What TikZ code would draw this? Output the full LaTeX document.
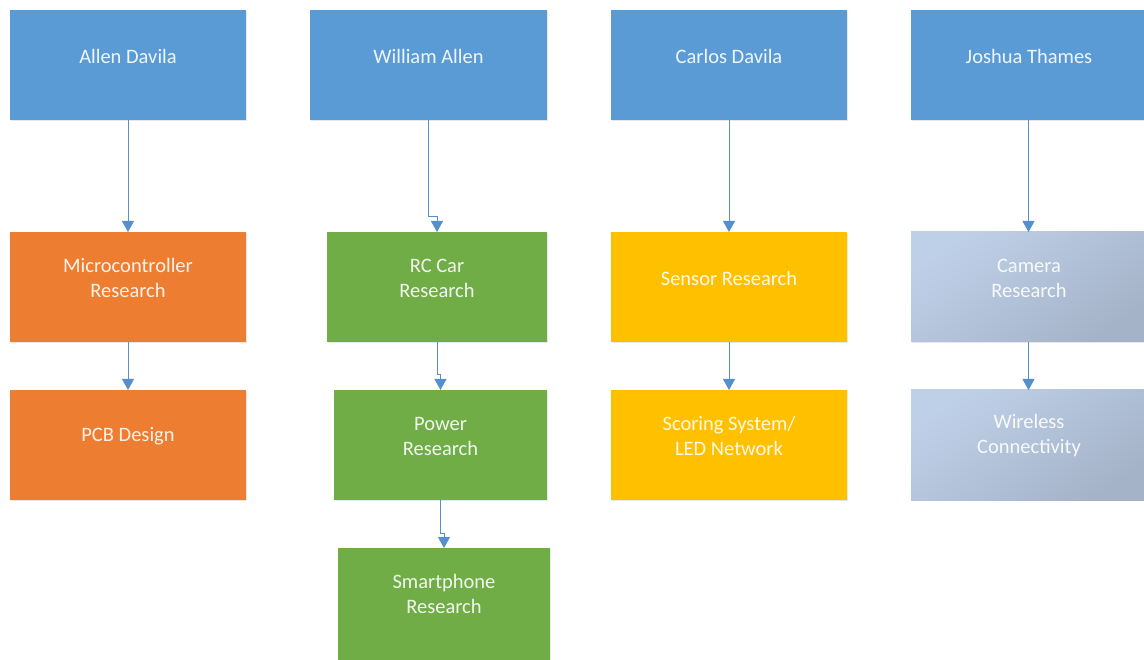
\documentclass[tikz,border=0pt]{standalone}
\usepackage{fontspec}
\setmainfont{Carlito}
\usetikzlibrary{arrows.meta,shadows}
\definecolor{hdblue}{HTML}{5B9BD5}
\definecolor{taskorange}{HTML}{ED7D31}
\definecolor{taskgreen}{HTML}{70AD47}
\definecolor{taskgold}{HTML}{FFC000}
\definecolor{slatelight}{HTML}{BED0E8}
\definecolor{slatedark}{HTML}{A5B3C8}
\definecolor{linkblue}{HTML}{5590CC}
\tikzset{
  card/.style={rectangle, draw=none, anchor=north west, minimum height=110pt,
    inner sep=0pt, outer sep=0pt,
    drop shadow={opacity=0.18, shadow xshift=1.2pt, shadow yshift=-1.2pt}},
  txt/.style={font=\fontsize{20.5}{25}\selectfont, text=white, text opacity=0.9,
    align=center, inner sep=0pt},
  tag/.style={label={[txt, yshift=9pt]center:#1}},
  head/.style={card, fill=hdblue, minimum width=236pt},
  orangecard/.style={card, fill=taskorange},
  greencard/.style={card, fill=taskgreen},
  goldcard/.style={card, fill=taskgold},
  slatecard/.style={card, top color=slatelight, bottom color=slatedark, shading angle=35},
  link/.style={draw=linkblue, line width=1pt,
    -{Triangle[width=12pt,length=11pt]}},
}
\begin{document}
\begin{tikzpicture}[x=1pt, y=-1pt]
  \useasboundingbox (0,0) rectangle (1144,660);
  \clip (0,0) rectangle (1144,660);

  % team member headers
  \node[head, tag={Allen Davila}] (ad) at (10,10) {};
  \node[head, minimum width=237pt, tag={William Allen}] (wa) at (310,10) {};
  \node[head, tag={Carlos Davila}] (cd) at (611,10) {};
  \node[head, tag={Joshua Thames}] (jt) at (911,10) {};

  % Allen Davila tasks
  \node[orangecard, minimum width=236pt, tag={Microcontroller\\Research}] (mc) at (10,232) {};
  \node[orangecard, minimum width=236pt, tag={PCB Design}] (pcb) at (10,390) {};

  % William Allen tasks
  \node[greencard, minimum width=220pt, tag={RC Car\\Research}] (rc) at (327,232) {};
  \node[greencard, minimum width=213pt, tag={Power\\Research}] (pw) at (334,390) {};
  \node[greencard, minimum width=212pt, minimum height=114pt,
        label={[txt, yshift=11pt]center:Smartphone\\Research}] (sp) at (338,548) {};

  % Carlos Davila tasks
  \node[goldcard, minimum width=236pt, tag={Sensor Research}] (sr) at (611,232) {};
  \node[goldcard, minimum width=236pt, tag={Scoring System/\\LED Network}] (ss) at (611,390) {};

  % Joshua Thames tasks
  \node[slatecard, minimum width=236pt, tag={Camera\\Research}] (cr) at (911,232) {};
  \node[slatecard, minimum width=236pt, tag={Wireless\\Connectivity}] (wc) at (911,390) {};

  % connectors
  \draw[link] (ad.south) -- (mc.north);
  \draw[link] (mc.south) -- (pcb.north);

  \draw[link] (wa.south) -- ([yshift=15pt]rc.north -| wa.south) -- ([yshift=15pt]rc.north) -- (rc.north);
  \draw[link] (rc.south) -- ([yshift=15pt]pw.north -| rc.south) -- ([yshift=15pt]pw.north) -- (pw.north);
  \draw[link] (pw.south) -- ([yshift=15pt]sp.north -| pw.south) -- ([yshift=15pt]sp.north) -- (sp.north);

  \draw[link] (cd.south) -- (sr.north);
  \draw[link] (sr.south) -- (ss.north);

  \draw[link] ([xshift=-0.5pt]jt.south) -- ([xshift=-0.5pt]jt.south |- cr.north);
  \draw[link] ([xshift=-0.5pt]cr.south) -- ([xshift=-0.5pt]cr.south |- wc.north);
\end{tikzpicture}
\end{document}
